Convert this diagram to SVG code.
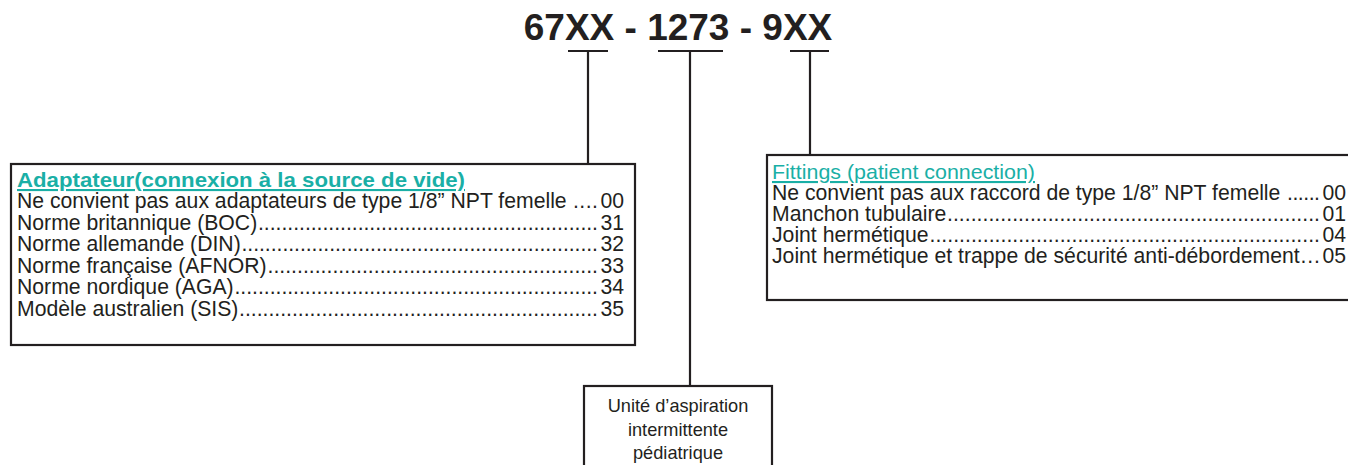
<svg xmlns="http://www.w3.org/2000/svg" width="1348" height="465" viewBox="0 0 1348 465">
<style>
.box{fill:#fff;stroke:#231f20;stroke-width:2.2}
.ln{fill:none;stroke:#231f20;stroke-width:2.2}
.t{font-family:"Liberation Sans",Arial,sans-serif;font-size:21.2px;fill:#231f20}
.hd{font-family:"Liberation Sans",Arial,sans-serif;font-size:21px;fill:#1aafa6;text-decoration:underline}
.b{font-weight:bold}
.e{text-anchor:end}
.c{text-anchor:middle;font-size:18.2px}
.title{font-family:"Liberation Sans",Arial,sans-serif;font-size:37px;font-weight:bold;fill:#231f20;text-anchor:middle}
</style>
<rect width="1348" height="465" fill="#fff"/>
<g id="title"><text class="title" x="678" y="40">67XX - 1273 - 9XX</text></g>
<g id="connectors">
<path class="ln" d="M568 51H608M588 51V164"/>
<path class="ln" d="M658 51H723M690 51V386"/>
<path class="ln" d="M790 51H829M810 51V155"/>
</g>
<g id="adaptateur">
<rect class="box" x="11" y="164" width="624" height="181"/>
<text class="hd b" x="17" y="187" textLength="448" lengthAdjust="spacingAndGlyphs">Adaptateur(connexion à la source de vide)</text>
<text class="t" x="17" y="208">Ne convient pas aux adaptateurs de type 1/8” NPT femelle</text>
<text class="t" x="573" y="208" textLength="25" lengthAdjust="spacing">....</text>
<text class="t e" x="624" y="208">00</text>
<text class="t" x="17" y="230">Norme britannique (BOC)</text>
<text class="t" x="258" y="230" textLength="340" lengthAdjust="spacing">..........................................................</text>
<text class="t e" x="624" y="230">31</text>
<text class="t" x="17" y="251">Norme allemande (DIN)</text>
<text class="t" x="241.5" y="251" textLength="356.5" lengthAdjust="spacing">.............................................................</text>
<text class="t e" x="624" y="251">32</text>
<text class="t" x="17" y="273">Norme française (AFNOR)</text>
<text class="t" x="267.5" y="273" textLength="330.5" lengthAdjust="spacing">........................................................</text>
<text class="t e" x="624" y="273">33</text>
<text class="t" x="17" y="294">Norme nordique (AGA)</text>
<text class="t" x="234.5" y="294" textLength="363.5" lengthAdjust="spacing">..............................................................</text>
<text class="t e" x="624" y="294">34</text>
<text class="t" x="17" y="316">Modèle australien (SIS)</text>
<text class="t" x="239" y="316" textLength="359" lengthAdjust="spacing">.............................................................</text>
<text class="t e" x="624" y="316">35</text>
</g>
<g id="fittings">
<rect class="box" x="767" y="155" width="600" height="145"/>
<text class="hd" x="772" y="179" textLength="263" lengthAdjust="spacingAndGlyphs">Fittings (patient connection)</text>
<text class="t" x="772" y="200">Ne convient pas aux raccord de type 1/8” NPT femelle</text>
<text class="t" x="1287" y="200" textLength="33" lengthAdjust="spacing">......</text>
<text class="t e" x="1346" y="200">00</text>
<text class="t" x="772" y="221">Manchon tubulaire</text>
<text class="t" x="947" y="221" textLength="373" lengthAdjust="spacing">...............................................................</text>
<text class="t e" x="1346" y="221">01</text>
<text class="t" x="772" y="242">Joint hermétique</text>
<text class="t" x="929.5" y="242" textLength="390.5" lengthAdjust="spacing">..................................................................</text>
<text class="t e" x="1346" y="242">04</text>
<text class="t" x="772" y="263">Joint hermétique et trappe de sécurité anti-débordement</text>
<text class="t" x="1300.5" y="263" textLength="19.5" lengthAdjust="spacing">...</text>
<text class="t e" x="1346" y="263">05</text>
</g>
<g id="unite">
<rect class="box" x="584" y="386" width="188" height="100"/>
<text class="t c" x="678" y="412">Unité d’aspiration</text>
<text class="t c" x="678" y="436">intermittente</text>
<text class="t c" x="678" y="459">pédiatrique</text>
</g>
</svg>
